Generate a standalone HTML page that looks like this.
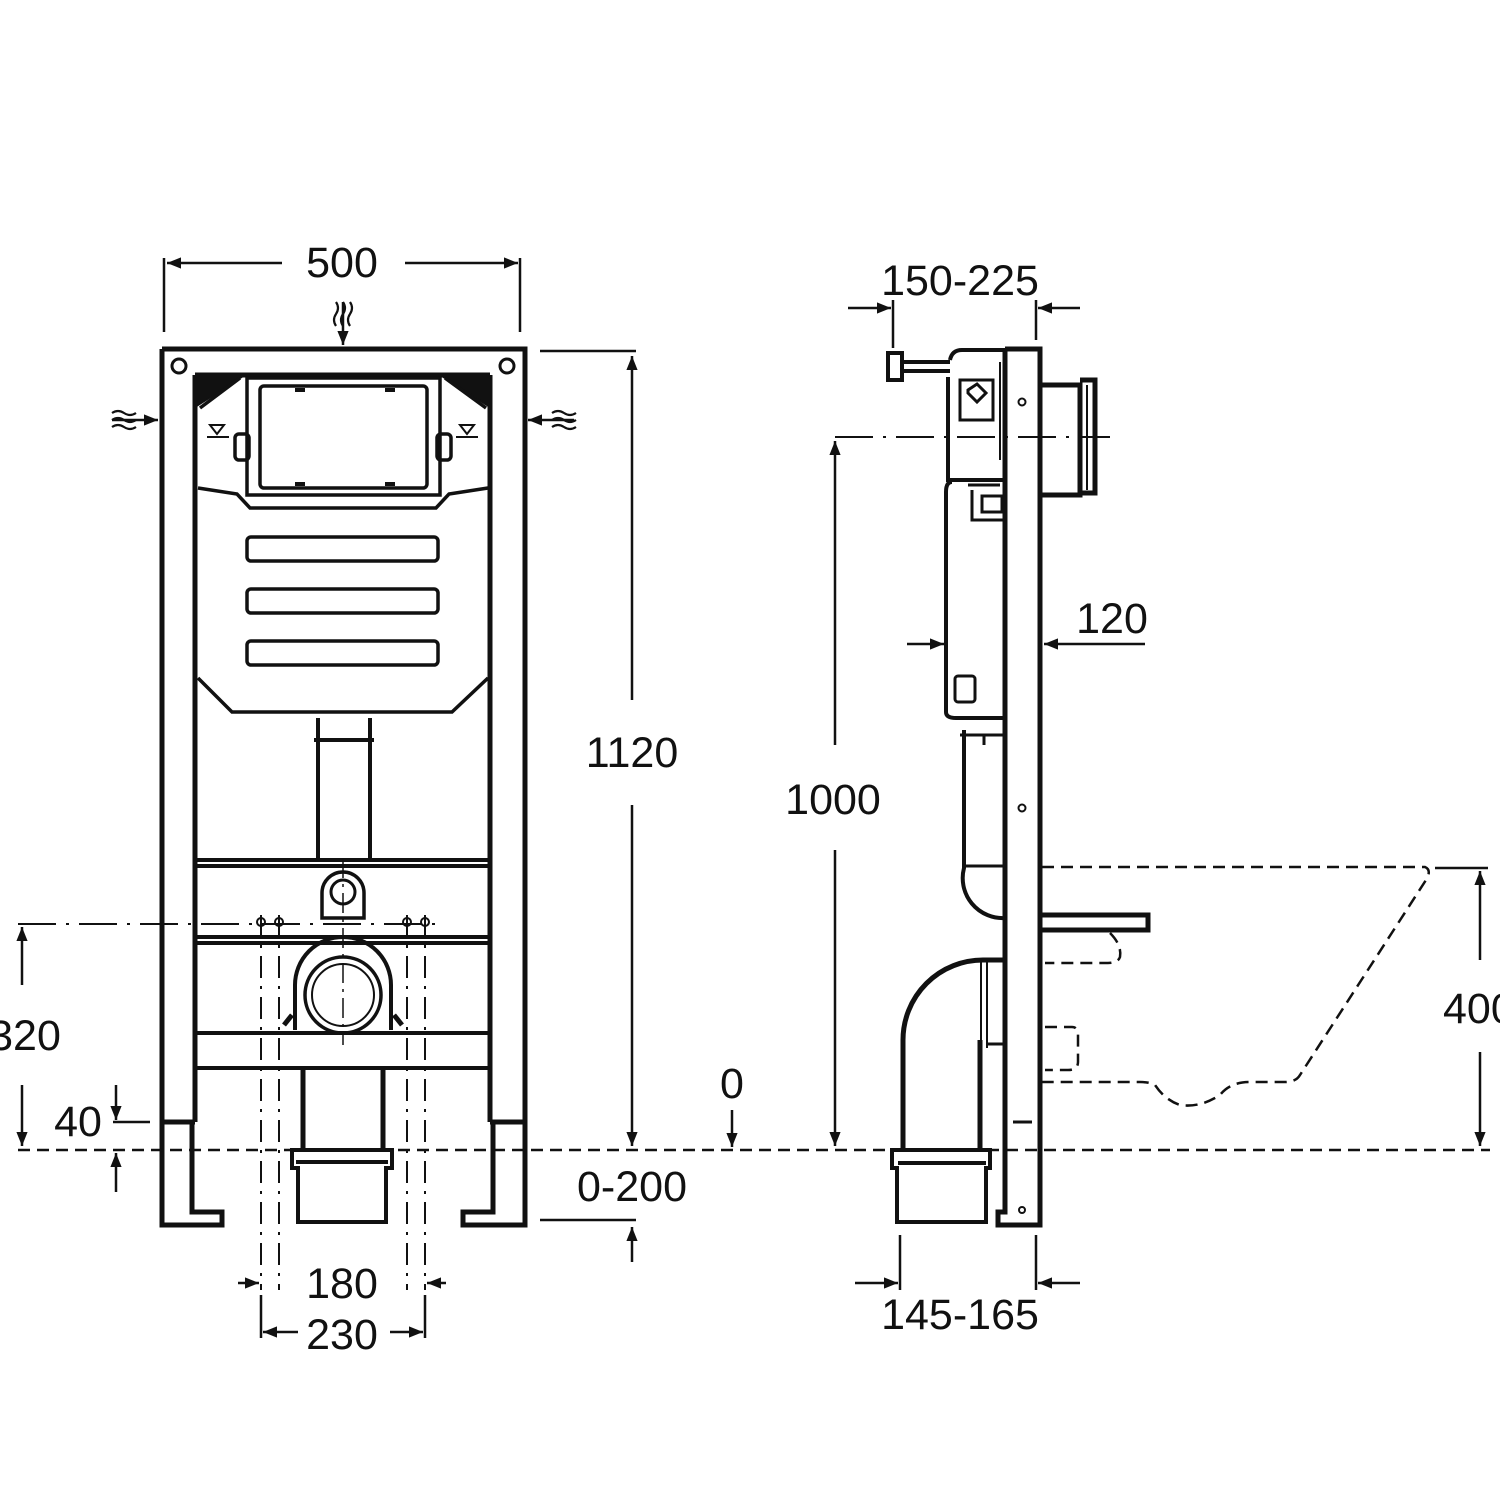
<!DOCTYPE html>
<html><head><meta charset="utf-8"><style>
html,body{margin:0;padding:0;background:#fff}
svg{display:block}
text{font-family:"Liberation Sans",sans-serif;font-size:43px;fill:#111}
</style></head><body>
<svg width="1500" height="1500" viewBox="0 0 1500 1500" xmlns="http://www.w3.org/2000/svg">
<defs>
<marker id="b" viewBox="0 0 10 10" refX="10" refY="5" markerWidth="22" markerHeight="14" markerUnits="userSpaceOnUse" orient="auto">
<path d="M0,1 L10,5 L0,9 z" fill="#111"/></marker>
</defs>
<g stroke="#111" fill="none" stroke-linecap="butt">
<g stroke-width="5">
<path d="M162,349 H525 V1150 M162,349 V1150"/>
<path d="M195,375 H490 M195,375 V1122 M490,375 V1122"/>
<path d="M162,1122 V1225 H222 V1212 H192 V1122"/>
<path d="M525,1122 V1225 H463 V1212 H493 V1122"/>
<path d="M162,1122 H195 M490,1122 H525"/>
</g>
<circle cx="179" cy="366" r="7" stroke-width="3"/>
<circle cx="507" cy="366" r="7" stroke-width="3"/>
<path d="M198,378 L240,378 L198,405 Z" fill="#111" stroke-width="2"/>
<path d="M487,378 L445,378 L487,405 Z" fill="#111" stroke-width="2"/>
<g stroke-width="3.5">
<path d="M240,378 L200,408 M445,378 L486,408"/>
<path d="M198,488 L237,494 L250,508 H436 L449,494 L488,488"/>
<path d="M198,678 L232,712 H452 L488,678"/>
<rect x="247" y="378" width="193" height="117"/>
<rect x="260" y="386" width="167" height="102" rx="4"/>
<rect x="247" y="537" width="191" height="24" rx="4"/>
<rect x="247" y="589" width="191" height="24" rx="4"/>
<rect x="247" y="641" width="191" height="24" rx="4"/>
<rect x="235" y="434" width="14" height="26" rx="4"/>
<rect x="437" y="434" width="14" height="26" rx="4"/>
</g>
<path d="M295,390h10M385,390h10M295,484h10M385,484h10" stroke-width="4"/>
<path d="M210,425h14l-7,9z M460,425h14l-7,9z M207,437h22 M456,437h22" stroke-width="2"/>
<path d="M318,718 V860 M370,718 V860 M314,740 H374" stroke-width="4"/>
<path d="M195,860 H490 M195,866 H490" stroke-width="4"/>
<path d="M195,937 H490 M195,943 H490" stroke-width="4"/>
<path d="M195,1033 H490 M195,1068 H490" stroke-width="4"/>
<path d="M322,918 V893 A21,21 0 0 1 364,893 V918 Z" stroke-width="3.5"/>
<circle cx="343" cy="892" r="12" stroke-width="3"/>
<path d="M295,1030 V985 A48,48 0 0 1 391,985 V1030" stroke-width="4"/>
<circle cx="343" cy="995" r="38" stroke-width="3.5"/>
<circle cx="343" cy="995" r="31" stroke-width="2"/>
<path d="M292,1015 L284,1025 M394,1015 L402,1025" stroke-width="5"/>
<path d="M303,1068 V1150 M383,1068 V1150" stroke-width="5"/>
<path d="M292,1150 H392 V1168 H386 V1222 H298 V1168 H292 Z M296,1162 H388" stroke-width="4"/>
<path d="M343,858 V1045" stroke-width="1.5" stroke-dasharray="20,6,3,6"/>
<g stroke-width="2" stroke-dasharray="22,8,3,8">
<path d="M261,915 V1290 M279,915 V1290 M407,915 V1290 M425,915 V1290"/>
</g>
<g fill="none" stroke-width="2">
<circle cx="261" cy="922" r="4"/><circle cx="279" cy="922" r="4"/>
<circle cx="407" cy="922" r="4"/><circle cx="425" cy="922" r="4"/>
</g>
<path d="M18,924 H445" stroke-width="2" stroke-dasharray="38,10,3,10"/>

<g stroke-width="5">
<path d="M1005,349 H1040 V1225 H998 V1212 H1005 V349"/>
</g>
<path d="M1013,1122 H1032" stroke-width="3"/>
<circle cx="1022" cy="402" r="3.5" stroke-width="2"/>
<circle cx="1022" cy="808" r="3.5" stroke-width="2"/>
<circle cx="1022" cy="1210" r="3" stroke-width="2"/>
<path d="M950,360 Q952,350 962,350 H1005 M948,377 V480 H1005" stroke-width="4"/>
<path d="M888,353 H902 V380 H888 Z M902,362 H950 M902,371 H950" stroke-width="4"/>
<rect x="960" y="380" width="33" height="40" stroke-width="3"/>
<path d="M968,390 l9,-6 9,9 -9,9 -9,-9 z" stroke-width="3"/>
<path d="M1000,362 V460" stroke-width="2"/>
<path d="M1040,385 H1080 V495 H1040 M1080,380 H1095 V493 H1080" stroke-width="5"/>
<path d="M1087,385 V490" stroke-width="2"/>
<path d="M952,482 Q946,482 946,492 V712 Q946,718 956,718 H1005" stroke-width="4"/>
<path d="M968,485 H1000 M972,490 V520 H1005 M982,496 H1002 V512 H982 Z" stroke-width="3"/>
<rect x="955" y="676" width="20" height="26" rx="3" stroke-width="3"/>
<path d="M964,730 V868 A40,40 0 0 0 1005,918" stroke-width="4"/>
<path d="M960,735 H1005 M984,735 V745" stroke-width="3"/>
<path d="M966,866 H1005" stroke-width="3"/>
<path d="M903,1150 V1040 A80,80 0 0 1 983,960 H1005" stroke-width="5"/>
<path d="M980,1040 V1150" stroke-width="5"/>
<path d="M987,960 V1048 M981,960 V1048" stroke-width="2"/>
<path d="M987,1044 H1005" stroke-width="3"/>
<path d="M892,1150 H990 V1168 H986 V1222 H897 V1168 H892 Z M898,1163 H986" stroke-width="4"/>
<path d="M1040,960 V1045" stroke-width="2"/>
<path d="M1040,915 H1148 V930 H1040" stroke-width="5"/>
<g stroke-width="2.5" stroke-dasharray="12,7">
<path d="M1042,867 H1425 Q1432,870 1426,880 L1300,1075 Q1296,1082 1285,1082 H1250 Q1230,1082 1220,1095 Q1200,1108 1180,1105 Q1165,1100 1155,1085 Q1150,1082 1140,1082 H1042"/>
<path d="M1110,933 Q1122,945 1120,957 Q1118,963 1108,963 H1045"/>
<path d="M1045,1027 H1072 Q1078,1027 1078,1035 V1062 Q1078,1070 1068,1070 H1045"/>
<path d="M18,1150 H1490"/>
</g>
<path d="M835,437 H1110" stroke-width="2" stroke-dasharray="38,10,3,10"/>

<g stroke-width="2.5">
<path d="M164,258 V332 M520,258 V332"/>
<path d="M282,263 H167" marker-end="url(#b)"/>
<path d="M405,263 H518" marker-end="url(#b)"/>
<path d="M343,302 V345" marker-end="url(#b)"/>
<path d="M112,420 H158" marker-end="url(#b)"/>
<path d="M574,420 H528" marker-end="url(#b)"/>
<path d="M540,351 H636"/>
<path d="M632,700 V356" marker-end="url(#b)"/>
<path d="M632,805 V1146" marker-end="url(#b)"/>
<path d="M22,985 V927" marker-end="url(#b)"/>
<path d="M22,1085 V1146" marker-end="url(#b)"/>
<path d="M113,1122 H150"/>
<path d="M116,1085 V1120" marker-end="url(#b)"/>
<path d="M116,1192 V1153" marker-end="url(#b)"/>
<path d="M540,1220 H636"/>
<path d="M632,1262 V1227" marker-end="url(#b)"/>
<path d="M732,1110 V1147" marker-end="url(#b)"/>
<path d="M238,1283 H259" marker-end="url(#b)"/>
<path d="M446,1283 H427" marker-end="url(#b)"/>
<path d="M261,1295 V1338 M425,1295 V1338"/>
<path d="M298,1332 H263" marker-end="url(#b)"/>
<path d="M390,1332 H423" marker-end="url(#b)"/>
<path d="M893,300 V348 M1036,300 V340"/>
<path d="M848,308 H891" marker-end="url(#b)"/>
<path d="M1080,308 H1038" marker-end="url(#b)"/>
<path d="M835,745 V441" marker-end="url(#b)"/>
<path d="M835,850 V1146" marker-end="url(#b)"/>
<path d="M907,644 H944" marker-end="url(#b)"/>
<path d="M1145,644 H1044" marker-end="url(#b)"/>
<path d="M1435,868 H1488"/>
<path d="M1480,960 V871" marker-end="url(#b)"/>
<path d="M1480,1052 V1146" marker-end="url(#b)"/>
<path d="M900,1235 V1290 M1036,1235 V1290"/>
<path d="M855,1283 H898" marker-end="url(#b)"/>
<path d="M1080,1283 H1038" marker-end="url(#b)"/>
</g>
<g stroke-width="2.2">
<path d="M336,302 q4,6 0,12 q-4,6 0,12 M343,302 q4,6 0,12 q-4,6 0,12 M350,302 q4,6 0,12 q-4,6 0,12"/>
<path d="M112,413 q6,-4 12,0 q6,4 12,0 M112,420 q6,-4 12,0 q6,4 12,0 M112,427 q6,-4 12,0 q6,4 12,0"/>
<path d="M552,413 q6,-4 12,0 q6,4 12,0 M552,420 q6,-4 12,0 q6,4 12,0 M552,427 q6,-4 12,0 q6,4 12,0"/>
</g>
</g>
<g>
<text x="342" y="277" text-anchor="middle">500</text>
<text x="632" y="767" text-anchor="middle">1120</text>
<text x="25" y="1050" text-anchor="middle">320</text>
<text x="78" y="1136" text-anchor="middle">40</text>
<text x="732" y="1098" text-anchor="middle">0</text>
<text x="632" y="1201" text-anchor="middle">0-200</text>
<text x="342" y="1298" text-anchor="middle">180</text>
<text x="342" y="1349" text-anchor="middle">230</text>
<text x="960" y="295" text-anchor="middle">150-225</text>
<text x="833" y="814" text-anchor="middle">1000</text>
<text x="1112" y="633" text-anchor="middle">120</text>
<text x="1443" y="1023">400</text>
<text x="960" y="1329" text-anchor="middle">145-165</text>
</g>
</svg>
</body></html>
